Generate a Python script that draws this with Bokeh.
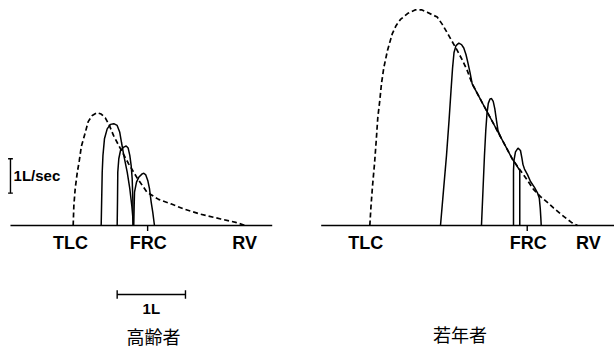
from bokeh.plotting import figure
from bokeh.layouts import row
from bokeh.models import Range1d, ColumnDataSource
from bokeh.core.properties import value
from bokeh.embed import file_html
from bokeh.resources import INLINE

# ---------------- data: volume expired from TLC (L), flow (L/s) ----------------
# Elderly (高齢者)
old_env_vol = [0.00, 0.01, 0.03, 0.06, 0.09, 0.12, 0.17, 0.22, 0.28, 0.35, 0.41, 0.47, 0.53,
               0.59, 0.69, 0.81, 0.94, 1.08, 1.25, 1.43, 1.62, 1.86, 2.16, 2.38, 2.52]
old_env_flow = [0.00, 0.58, 1.08, 1.54, 1.89, 2.30, 2.65, 3.02, 3.20, 3.28, 3.24, 3.13, 2.91,
                2.62, 2.24, 1.80, 1.37, 0.97, 0.76, 0.63, 0.48, 0.33, 0.19, 0.09, 0.00]
old_a_vol = [0.410, 0.417, 0.425, 0.436, 0.458, 0.498, 0.546, 0.594, 0.644, 0.682, 0.707,
             0.741, 0.791, 0.829, 0.858, 0.871, 0.878]
old_a_flow = [0.00, 0.73, 1.54, 2.04, 2.52, 2.81, 2.94, 2.96, 2.91, 2.71, 2.42, 2.04, 1.55,
              1.07, 0.58, 0.29, 0.00]
old_b_vol = [0.644, 0.649, 0.653, 0.668, 0.693, 0.741, 0.776, 0.805, 0.829, 0.849, 0.864, 0.873, 0.878]
old_b_flow = [0.00, 0.73, 1.55, 1.94, 2.18, 2.28, 2.31, 2.25, 2.04, 1.74, 1.36, 0.78, 0.00]
old_c_vol = [0.887, 0.893, 0.898, 0.927, 0.960, 1.010, 1.034, 1.063, 1.092, 1.117, 1.142, 1.165, 1.190]
old_c_flow = [0.00, 0.58, 0.97, 1.26, 1.40, 1.50, 1.52, 1.47, 1.31, 1.07, 0.68, 0.39, 0.00]
old_labels = ["TLC", "FRC", "RV"]
old_label_vol = [-0.04, 1.10, 2.51]
old_frc_vol = 1.09

# Young (若年者)
young_env_vol = [0.000, 0.018, 0.040, 0.069, 0.094, 0.117, 0.146, 0.171, 0.205, 0.259, 0.328,
                 0.384, 0.449, 0.552, 0.669, 0.757, 0.840, 0.911, 0.987, 1.064, 1.157, 1.280,
                 1.357, 1.426, 1.499, 1.606, 1.719, 1.914, 2.085, 2.206, 2.309, 2.397, 2.499,
                 2.597, 2.690, 2.792, 2.880, 2.953, 3.041]
young_env_flow = [0.00, 0.58, 1.16, 1.80, 2.47, 3.14, 3.63, 4.13, 4.59, 5.09, 5.57, 5.81, 5.99,
                  6.16, 6.27, 6.27, 6.20, 6.13, 6.06, 5.84, 5.52, 5.09, 4.80, 4.51, 4.12, 3.72,
                  3.30, 2.58, 1.94, 1.60, 1.31, 1.05, 0.84, 0.68, 0.51, 0.34, 0.20, 0.09, 0.00]
young_a_vol = [1.035, 1.079, 1.123, 1.160, 1.189, 1.211, 1.233, 1.262, 1.303, 1.343, 1.376, 1.408,
               1.435, 1.467, 1.499, 1.719, 1.914, 2.085, 2.196, 2.196]
young_a_flow = [0.00, 1.02, 2.04, 3.05, 3.92, 4.56, 5.03, 5.23, 5.30, 5.26, 5.16, 4.97, 4.74,
                4.45, 4.12, 3.30, 2.58, 1.94, 1.60, 0.00]
young_b_vol = [1.635, 1.657, 1.679, 1.698, 1.716, 1.735, 1.760, 1.782, 1.807, 1.830, 1.855, 1.877, 1.914]
young_b_flow = [0.00, 1.02, 2.04, 2.76, 3.26, 3.55, 3.68, 3.69, 3.61, 3.40, 3.05, 2.76, 2.58]
young_c_vol = [2.104, 2.104, 2.111, 2.133, 2.170, 2.206, 2.228, 2.243, 2.265, 2.309, 2.353, 2.411,
               2.455, 2.482, 2.496, 2.504, 2.510]
young_c_flow = [0.00, 1.60, 1.89, 2.14, 2.25, 2.18, 1.95, 1.77, 1.64, 1.48, 1.28, 1.11, 0.95,
                0.79, 0.49, 0.23, 0.00]
young_labels = ["TLC", "FRC", "RV"]
young_label_vol = [-0.06, 2.32, 3.20]
young_frc_vol = 2.305

titles = ["高齢者", "若年者"]
flow_scale_label = "1L/sec"
vol_scale_label = "1L"
flow_scale = 1.0   # L/s
vol_scale = 1.0    # L

# ---------------- styling ----------------
BOLD = value("Liberation Sans")
CJK = value("Noto Sans CJK JP")
Y0, Y1 = -3.663, 6.541
LABEL_Y = -0.50
TITLE_Y = -3.20


def base_fig(w, x0, x1):
    p = figure(width=w, height=351, x_range=Range1d(x0, x1), y_range=Range1d(Y0, Y1),
               output_backend="svg", toolbar_location=None, x_axis_type=None,
               y_axis_type=None, min_border=0, min_border_left=0, min_border_right=0,
               min_border_top=0, min_border_bottom=0)
    p.grid.visible = False
    p.outline_line_color = None
    p.background_fill_color = "white"
    p.border_fill_color = "white"
    return p


def draw_panel(p, env_v, env_f, parts, labels, label_v, frc_v, base_x0, base_x1):
    p.line([base_x0, base_x1], [0, 0], line_color="black", line_width=1.7)
    p.segment(x0=[frc_v], y0=[0], x1=[frc_v], y1=[-0.16], line_color="black", line_width=1.4)
    p.line(env_v, env_f, line_color="black", line_width=1.7, line_dash="5 3")
    p.multi_line([pv for pv, pf in parts], [pf for pv, pf in parts],
                 line_color="black", line_width=1.5)
    src = ColumnDataSource(dict(x=label_v, y=[LABEL_Y] * len(labels), t=labels))
    p.text(x="x", y="y", text="t", source=src, text_font=BOLD, text_font_style="bold",
           text_font_size="18px", text_align="center", text_baseline="middle",
           text_color="black")


# left panel (elderly)
p1 = base_fig(300, -1.064, 3.328)
draw_panel(p1, old_env_vol, old_env_flow,
           [(old_a_vol, old_a_flow), (old_b_vol, old_b_flow), (old_c_vol, old_c_flow)],
           old_labels, old_label_vol, old_frc_vol, -0.918, 2.914)
# flow scale bar
fx = -0.918
fy0 = 0.94
p1.segment(x0=[fx, fx - 0.035, fx - 0.035], y0=[fy0, fy0, fy0 + flow_scale],
           x1=[fx, fx + 0.035, fx + 0.035], y1=[fy0 + flow_scale, fy0, fy0 + flow_scale],
           line_color="black", line_width=1.4)
p1.text(x=[fx + 0.045], y=[fy0 + flow_scale / 2], text=[flow_scale_label], text_font=BOLD,
        text_font_style="bold", text_font_size="15px", text_align="left",
        text_baseline="middle", text_color="black")
# volume scale bar
vx0 = 0.644
vy = -2.006
p1.segment(x0=[vx0, vx0, vx0 + vol_scale], y0=[vy, vy - 0.12, vy - 0.12],
           x1=[vx0 + vol_scale, vx0, vx0 + vol_scale], y1=[vy, vy + 0.12, vy + 0.12],
           line_color="black", line_width=1.4)
p1.text(x=[vx0 + vol_scale / 2], y=[-2.41], text=[vol_scale_label], text_font=BOLD,
        text_font_style="bold", text_font_size="15px", text_align="center",
        text_baseline="middle", text_color="black")
p1.text(x=[1.176], y=[TITLE_Y], text=[titles[0]], text_font=CJK, text_font_size="18px",
        text_align="center", text_baseline="middle", text_color="black")

# right panel (young)
p2 = base_fig(314, -1.015, 3.583)
draw_panel(p2, young_env_vol, young_env_flow,
           [(young_a_vol, young_a_flow), (young_b_vol, young_b_flow), (young_c_vol, young_c_flow)],
           young_labels, young_label_vol, young_frc_vol, -0.712, 3.583)
p2.text(x=[1.321], y=[TITLE_Y + 0.06], text=[titles[1]], text_font=CJK, text_font_size="18px",
        text_align="center", text_baseline="middle", text_color="black")

layout = row(p1, p2, spacing=0)
open("out.html", "w").write(file_html(layout, INLINE))
